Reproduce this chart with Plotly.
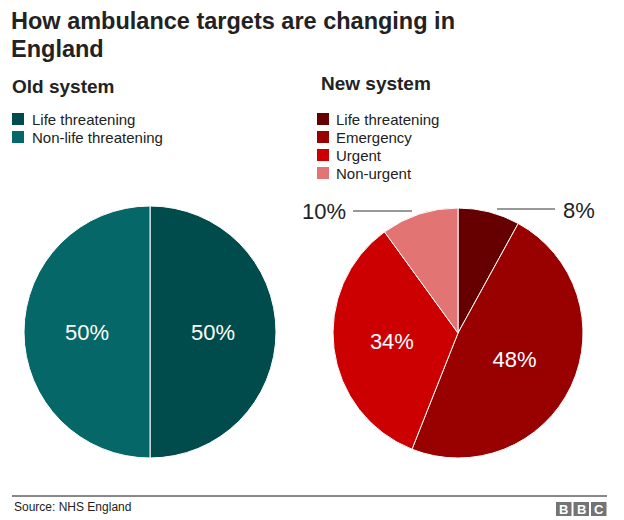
import plotly.graph_objects as go

title_lines = ["How ambulance targets are changing in", "England"]
old_title = "Old system"
new_title = "New system"
source = "Source: NHS England"

old_labels = ["Life threatening", "Non-life threatening"]
old_values = [50, 50]
old_colors = ["#004c4c", "#056767"]

new_labels = ["Life threatening", "Emergency", "Urgent", "Non-urgent"]
new_values = [8, 48, 34, 10]
new_colors = ["#660000", "#990000", "#cc0000", "#e27474"]

W, H = 624, 520
def px(x):
    return x / W
def py(y):
    return 1 - y / H

FONT = "Liberation Sans, Arial, sans-serif"
DARK = "#222222"

fig = go.Figure()

fig.add_trace(go.Pie(
    labels=old_labels, values=old_values, sort=False, direction="clockwise",
    marker=dict(colors=old_colors, line=dict(color="white", width=1)),
    texttemplate="%{value}%", textposition="inside",
    insidetextorientation="horizontal",
    textfont=dict(color="white", size=22, family=FONT),
    domain=dict(x=[px(24), px(276)], y=[py(458), py(206)]),
    showlegend=False, hoverinfo="label+value",
))

new_text = ["" if v < 15 else f"{v}%" for v in new_values]
fig.add_trace(go.Pie(
    labels=new_labels, values=new_values, sort=False, direction="clockwise",
    marker=dict(colors=new_colors, line=dict(color="white", width=1)),
    text=new_text, texttemplate="%{text}", textposition="inside",
    insidetextorientation="horizontal",
    textfont=dict(color="white", size=22, family=FONT),
    domain=dict(x=[px(333), px(583)], y=[py(458), py(208)]),
    showlegend=False, hoverinfo="label+value",
))

annotations = [
    dict(text=f"<b>{title_lines[0]}</b>", x=px(9), y=py(21), xanchor="left", yanchor="middle",
         showarrow=False, font=dict(size=23.5, color=DARK, family=FONT)),
    dict(text=f"<b>{title_lines[1]}</b>", x=px(9), y=py(49), xanchor="left", yanchor="middle",
         showarrow=False, font=dict(size=23.5, color=DARK, family=FONT)),
    dict(text=f"<b>{old_title}</b>", x=px(10), y=py(87), xanchor="left", yanchor="middle",
         showarrow=False, font=dict(size=19, color=DARK, family=FONT)),
    dict(text=f"<b>{new_title}</b>", x=px(319), y=py(83), xanchor="left", yanchor="middle",
         showarrow=False, font=dict(size=19, color=DARK, family=FONT)),
    dict(text=f"{new_values[3]}%", x=px(348), y=py(211), xanchor="right", yanchor="middle",
         showarrow=False, font=dict(size=22, color=DARK, family=FONT)),
    dict(text=f"{new_values[0]}%", x=px(561), y=py(210), xanchor="left", yanchor="middle",
         showarrow=False, font=dict(size=22, color=DARK, family=FONT)),
    dict(text=source, x=px(12), y=py(507), xanchor="left", yanchor="middle",
         showarrow=False, font=dict(size=12, color=DARK, family=FONT)),
]

shapes = []

# manual legends
def add_legend(labels, colors, sq_x, txt_x, top):
    for i, (lab, col) in enumerate(zip(labels, colors)):
        y0 = top + i * 18
        shapes.append(dict(type="rect", xref="paper", yref="paper",
                           x0=px(sq_x), x1=px(sq_x + 12), y0=py(y0 + 12), y1=py(y0),
                           fillcolor=col, line=dict(width=0)))
        annotations.append(dict(text=lab, x=px(txt_x), y=py(y0 + 6.5), xanchor="left",
                                yanchor="middle", showarrow=False,
                                font=dict(size=15, color=DARK, family=FONT)))

add_legend(old_labels, old_colors, 12, 30, 113)
add_legend(new_labels, new_colors, 317, 334, 113)

shapes += [
    dict(type="line", xref="paper", yref="paper", x0=px(353), x1=px(412), y0=py(211), y1=py(211),
         line=dict(color="#333333", width=1)),
    dict(type="line", xref="paper", yref="paper", x0=px(497), x1=px(555), y0=py(209), y1=py(209),
         line=dict(color="#333333", width=1)),
    dict(type="line", xref="paper", yref="paper", x0=px(12), x1=px(607), y0=py(496), y1=py(496),
         line=dict(color="#111111", width=1)),
]
for i, letter in enumerate(["B", "B", "C"]):
    x0 = 556 + i * 17.5
    shapes.append(dict(type="rect", xref="paper", yref="paper", x0=px(x0), x1=px(x0 + 15.5),
                       y0=py(516), y1=py(502), fillcolor="#747474", line=dict(width=0)))
    annotations.append(dict(text=f"<b>{letter}</b>", x=px(x0 + 7.75), y=py(509), xanchor="center",
                            yanchor="middle", showarrow=False,
                            font=dict(size=13, color="white", family=FONT)))

fig.update_layout(
    width=W, height=H, margin=dict(l=0, r=0, t=0, b=0),
    paper_bgcolor="white", plot_bgcolor="white",
    font=dict(family=FONT, color=DARK),
    annotations=annotations, shapes=shapes, showlegend=False,
)

fig.write_html("out.html", config={"displayModeBar": False},
               post_script="document.body.style.margin='0';")
